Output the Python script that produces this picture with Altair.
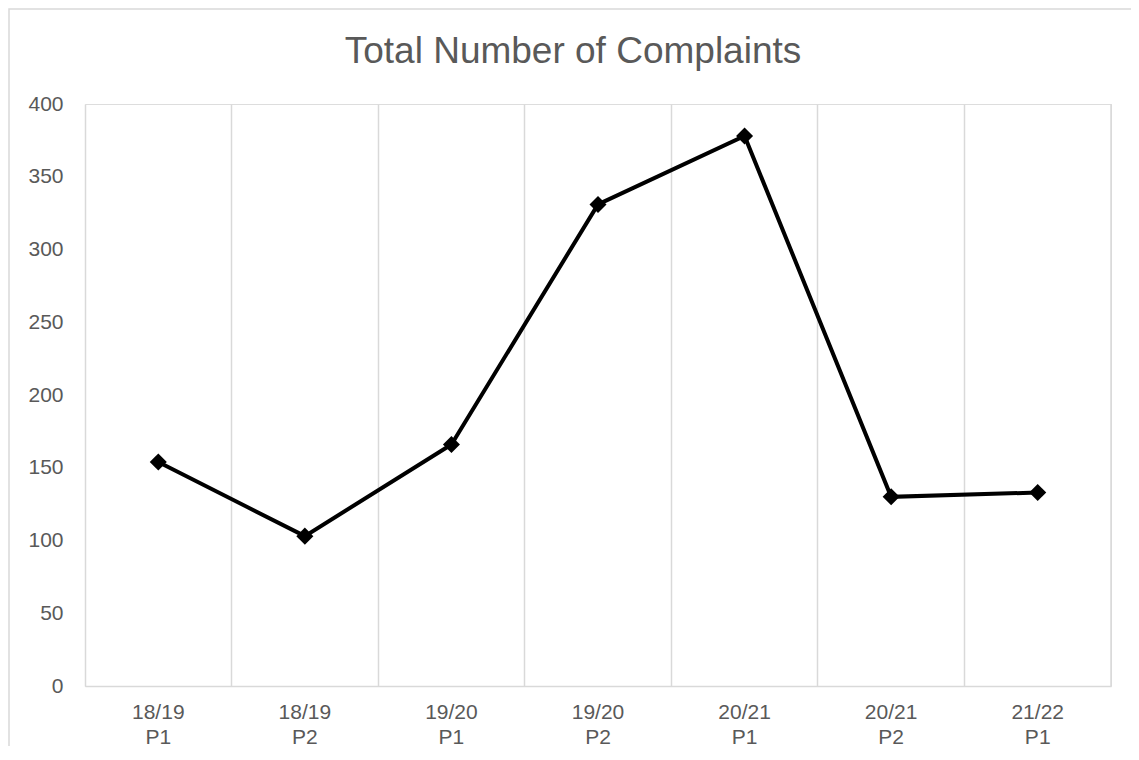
import altair as alt
import pandas as pd

periods = ["18/19 P1", "18/19 P2", "19/20 P1", "19/20 P2", "20/21 P1", "20/21 P2", "21/22 P1"]
complaints = [154, 103, 166, 331, 378, 130, 133]
y_ticks = [0, 50, 100, 150, 200, 250, 300, 350, 400]
title_text = "Total Number of Complaints"

df = pd.DataFrame({"period": periods, "complaints": complaints})

FONT = "Liberation Sans"
TXT = "#595959"
GRID = "#d9d9d9"

xenc = alt.X(
    "period:N",
    sort=periods,
    scale=alt.Scale(type="band", paddingInner=0, paddingOuter=0),
    axis=alt.Axis(
        title=None,
        labelExpr="split(datum.label, ' ')",
        labelAngle=0,
        labelFont=FONT,
        labelFontSize=21,
        labelColor=TXT,
        labelLineHeight=25,
        labelPadding=15,
        ticks=False,
        tickSize=0,
        domain=True,
        domainColor=GRID,
        domainWidth=1.5,
        grid=True,
        gridColor=GRID,
        gridWidth=1.5,
        bandPosition=0,
    ),
)

yscale = alt.Scale(domain=[0, 400], nice=False, zero=True)

base = alt.Chart(df)

line = base.mark_line(color="#000000", strokeWidth=4).encode(
    x=xenc,
    y=alt.Y(
        "complaints:Q",
        scale=yscale,
        axis=alt.Axis(
            title=None,
            values=y_ticks,
            grid=False,
            domain=False,
            ticks=False,
            tickSize=0,
            labelFont=FONT,
            labelFontSize=21,
            labelColor=TXT,
            labelPadding=22,
        ),
    ),
)

points = base.mark_point(shape="diamond", filled=True, color="#000000", size=290, opacity=1).encode(
    x=alt.X("period:N", sort=periods),
    y=alt.Y("complaints:Q", scale=yscale),
)

one = pd.DataFrame({"f": [0]})

right_edge = alt.Chart(one).mark_rule(color=GRID, strokeWidth=1.5).encode(
    x=alt.value(1026), y=alt.datum(0), y2=alt.datum(400)
)

frame = alt.Chart(one).mark_rect(
    fill=None, stroke=GRID, strokeWidth=1.5
).encode(
    x=alt.value(-76), x2=alt.value(1200), y=alt.value(-95), y2=alt.value(800)
)

title = alt.Chart(one).mark_text(
    font=FONT, fontSize=37, color=TXT, align="center", baseline="alphabetic"
).encode(
    x=alt.value(488), y=alt.value(-41), text=alt.value(title_text)
)

chart = (
    alt.layer(frame, right_edge, line, points, title)
    .properties(
        width=1026,
        height=582,
        autosize=alt.AutoSizeParams(type="none"),
        padding={"left": 77, "top": 96, "right": 20, "bottom": 60},
    )
    .configure_view(stroke=None)
    .configure(background="#ffffff")
)

chart.save("out.html", embed_options={"renderer": "svg", "actions": False})
